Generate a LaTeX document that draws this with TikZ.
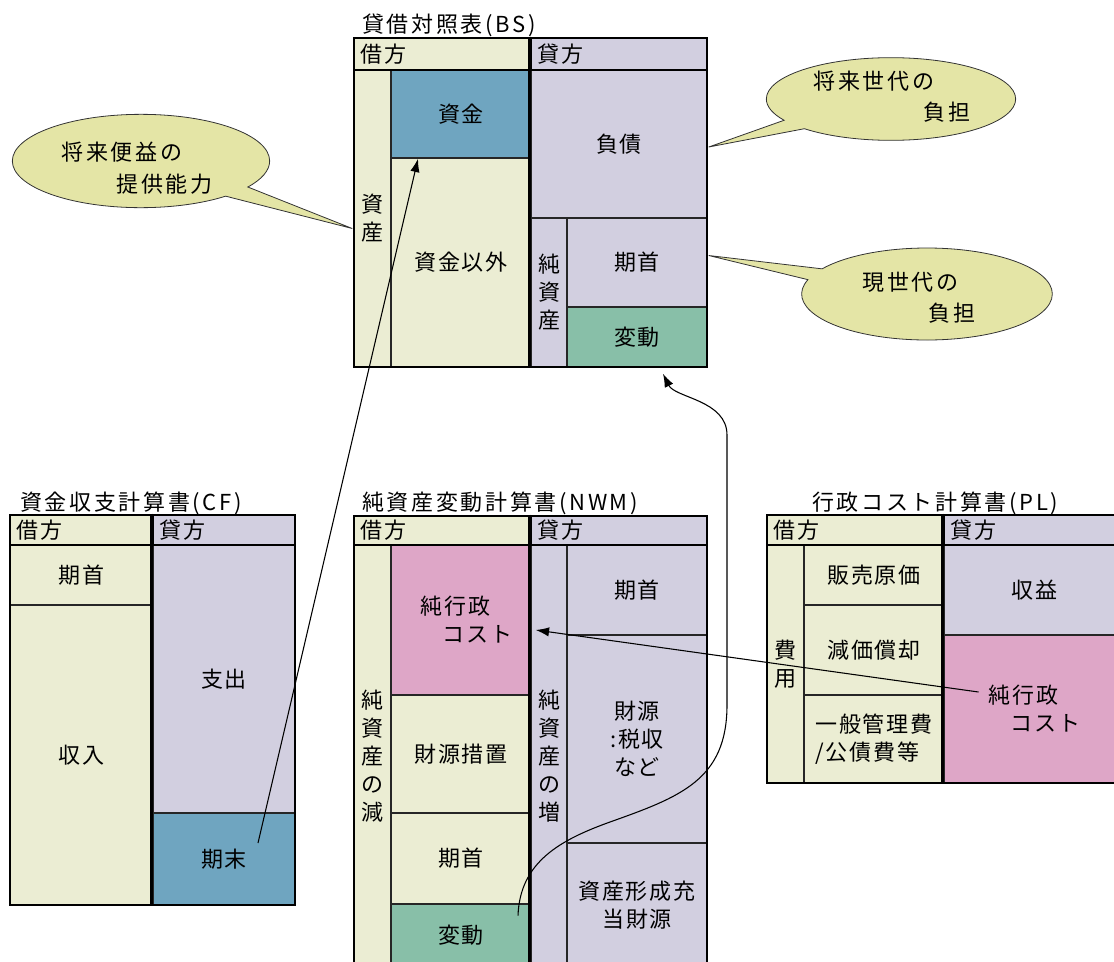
\documentclass[tikz,border=0pt]{standalone}
\usepackage{fontspec}
\setmainfont{Noto Sans CJK JP}[LetterSpace=8]
\newfontfamily\ttlfont[LetterSpace=12]{Noto Sans CJK JP}
\usetikzlibrary{arrows.meta,fit,shapes.callouts}

\definecolor{debit}{RGB}{235,237,211}
\definecolor{credit}{RGB}{210,207,224}
\definecolor{cash}{RGB}{111,165,192}
\definecolor{change}{RGB}{136,191,168}
\definecolor{netcost}{RGB}{222,166,199}
\definecolor{bubble}{RGB}{228,229,166}

\tikzset{
  cell/.style={draw=black!85,line width=1.1pt,inner sep=0pt},
  every label/.style={inner sep=0pt,align=center},
  hdr/.style={draw=black,line width=2pt,inner sep=0pt},
  frame/.style={draw=black,line width=2.2pt,inner sep=0pt},
  divider/.style={draw=black,line width=2pt},
  hdrtext/.style={anchor=west,inner sep=0pt},
  title/.style={anchor=west,inner sep=0pt,font=\ttlfont\fontsize{16.5}{21}\selectfont},
  say/.style={ellipse callout,draw=black!80,line width=0.6pt,fill=bubble,inner sep=0pt},
  saytext/.style={align=left,font=\ttlfont\fontsize{16.5}{23.5}\selectfont},
  flow/.style={-{Latex[length=10pt,width=7pt]},line width=0.8pt}
}

\begin{document}
\begin{tikzpicture}[x=0.75pt,y=-0.75pt,font=\fontsize{16.5}{21}\selectfont]
\useasboundingbox (0,0) rectangle (1114,961);

% balance sheet (BS)
\node[title] (bsTitle) at (362,25) {貸借対照表(BS)};
\node[cell,fill=debit,fit={(354,70)(391,367)},label={center:{資\\産}}] (bsAssetCol) {};
\node[cell,fill=cash,fit={(391,70)(531,158)},label={center:{資金}}] (bsCash) {};
\node[cell,fill=debit,fit={(391,158)(531,367)},label={center:{資金以外}}] (bsOther) {};
\node[cell,fill=credit,fit={(531,70)(707,218)},label={center:{負債}}] (bsDebt) {};
\node[cell,fill=credit,fit={(531,218)(567,367)},label={center:{純\\資\\産}}] (bsNetCol) {};
\node[cell,fill=credit,fit={(567,218)(707,307)},label={center:{期首}}] (bsStart) {};
\node[cell,fill=change,fit={(567,307)(707,367)},label={center:{変動}}] (bsChange) {};
\node[hdr,fill=debit,fit={(354,38)(531,70)}] (bsDr) {};
\node[hdr,fill=credit,fit={(531,38)(707,70)}] (bsCr) {};
\node[hdrtext] (bsDrText) at ([xshift=6pt]bsDr.west) {借方};
\node[hdrtext] (bsCrText) at ([xshift=6pt]bsCr.west) {貸方};
\node[frame,fit={(354,38)(707,367)}] (bs) {};
\draw[divider] (bsCr.north west) -- (bsCr.north west |- bs.south);

% cash flow statement (CF)
\node[title] (cfTitle) at (20,503) {資金収支計算書(CF)};
\node[cell,fill=debit,fit={(10,545)(153,605)},label={center:{期首}}] (cfStart) {};
\node[cell,fill=debit,fit={(10,605)(153,905)},label={center:{収入}}] (cfIn) {};
\node[cell,fill=credit,fit={(153,545)(295,813)},label={center:{支出}}] (cfOut) {};
\node[cell,fill=cash,fit={(153,813)(295,905)},label={center:{期末}}] (cfEnd) {};
\node[hdr,fill=debit,fit={(10,515)(153,545)}] (cfDr) {};
\node[hdr,fill=credit,fit={(153,515)(295,545)}] (cfCr) {};
\node[hdrtext] (cfDrText) at ([xshift=6pt]cfDr.west) {借方};
\node[hdrtext] (cfCrText) at ([xshift=6pt]cfCr.west) {貸方};
\node[frame,fit={(10,515)(295,905)}] (cf) {};
\draw[divider] (cfCr.north west) -- (cfCr.north west |- cf.south);

% net worth movement (NWM)
\node[title] (nwmTitle) at (362,503) {純資産変動計算書(NWM)};
\node[cell,fill=debit,fit={(354,545)(391,967)},label={center:{純\\資\\産\\の\\減}}] (nwmDecCol) {};
\node[cell,fill=netcost,fit={(391,545)(531,695)},label={[align=left,xshift=4pt]center:{純行政\\\hspace*{1em}コスト}}] (nwmNet) {};
\node[cell,fill=debit,fit={(391,695)(531,813)},label={center:{財源措置}}] (nwmFund) {};
\node[cell,fill=debit,fit={(391,813)(531,904)},label={center:{期首}}] (nwmStart) {};
\node[cell,fill=change,fit={(391,904)(531,967)},label={center:{変動}}] (nwmChange) {};
\node[cell,fill=credit,fit={(531,545)(567,967)},label={center:{純\\資\\産\\の\\増}}] (nwmIncCol) {};
\node[cell,fill=credit,fit={(567,545)(707,635)},label={center:{期首}}] (nwmBegin) {};
\node[cell,fill=credit,fit={(567,635)(707,843)},label={center:{財源\\:税収\\など}}] (nwmTax) {};
\node[cell,fill=credit,fit={(567,843)(707,967)},label={center:{資産形成充\\当財源}}] (nwmAsset) {};
\node[hdr,fill=debit,fit={(354,516)(531,545)}] (nwmDr) {};
\node[hdr,fill=credit,fit={(531,516)(707,545)}] (nwmCr) {};
\node[hdrtext] (nwmDrText) at ([xshift=6pt]nwmDr.west) {借方};
\node[hdrtext] (nwmCrText) at ([xshift=6pt]nwmCr.west) {貸方};
\node[frame,fit={(354,516)(707,967)}] (nwm) {};
\draw[divider] (nwmCr.north west) -- (nwmCr.north west |- nwm.south);

% administrative cost statement (PL)
\node[title] (plTitle) at (812,503) {行政コスト計算書(PL)};
\node[cell,fill=debit,fit={(767,545)(804,783)},label={center:{費\\用}}] (plCostCol) {};
\node[cell,fill=debit,fit={(804,545)(944,605)},label={center:{販売原価}}] (plSales) {};
\node[cell,fill=debit,fit={(804,605)(944,695)},label={center:{減価償却}}] (plDep) {};
\node[cell,fill=debit,fit={(804,695)(944,783)},label={[align=left]center:{一般管理費\\/公債費等}}] (plAdmin) {};
\node[cell,fill=credit,fit={(944,545)(1125,635)},label={center:{収益}}] (plRev) {};
\node[cell,fill=netcost,fit={(944,635)(1125,783)},label={[align=left]center:{純行政\\\hspace*{1em}コスト}}] (plNet) {};
\node[hdr,fill=debit,fit={(767,515)(944,545)}] (plDr) {};
\node[hdr,fill=credit,fit={(944,515)(1125,545)}] (plCr) {};
\node[hdrtext] (plDrText) at ([xshift=6pt]plDr.west) {借方};
\node[hdrtext] (plCrText) at ([xshift=6pt]plCr.west) {貸方};
\node[frame,fit={(767,515)(1125,783)}] (pl) {};
\draw[divider] (plCr.north west) -- (plCr.north west |- pl.south);

% callouts
\node[say,minimum width=193pt,minimum height=70pt,
  callout absolute pointer={([shift={(-1,10)}]bsAssetCol.west)},
  label={[saytext,shift={(-4,7)}]center:{将来便益の\\\hspace*{2.5em}提供能力}}] (sayBenefit) at (141,161) {};
\node[say,minimum width=187pt,minimum height=62pt,
  callout absolute pointer={([shift={(1,3)}]bsDebt.east)},
  label={[saytext,shift={(1,-2)}]center:{将来世代の\\\hspace*{5em}負担}}] (sayFuture) at (891,99) {};
\node[say,minimum width=188pt,minimum height=69pt,
  callout absolute pointer={([shift={(1,-7)}]bsStart.east)},
  label={[saytext,shift={(-8,4)}]center:{現世代の\\\hspace*{3em}負担}}] (sayNow) at (927,294) {};

% flows between statements
\draw[flow] ([shift={(34,-16)}]cfEnd.center) -- ([shift={(-43,0)}]bsCash.south);
\draw[flow] ([shift={(-56,-17)}]plNet.center) -- ([shift={(4,10)}]nwmNet.east);
\draw[flow] ([shift={(57,-20)}]nwmChange.center)
  .. controls (520,862) and (560,840) .. (610,822)
  .. controls (680,797) and (727,780) .. (727,705) -- (727,435)
  .. controls (727,400) and (675,398) .. ([shift={(26,6)}]bsChange.south);
\end{tikzpicture}
\end{document}
